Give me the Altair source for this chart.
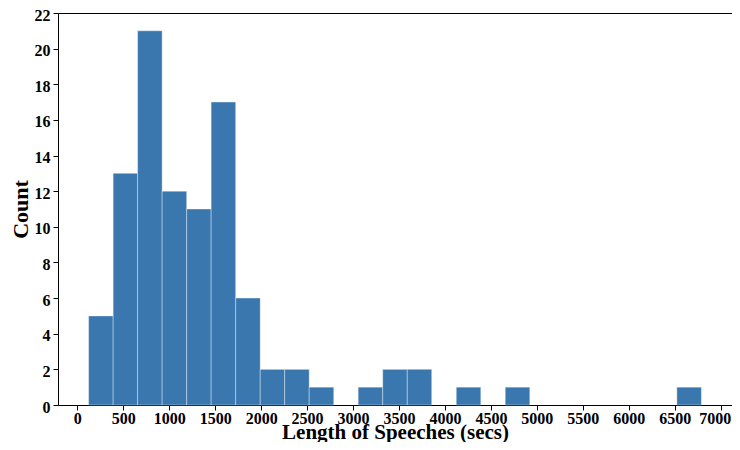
import altair as alt
import pandas as pd

bin_edges = [123, 390, 656, 923, 1190, 1456, 1723, 1990, 2256, 2523, 2790,
             3056, 3323, 3590, 3856, 4123, 4390, 4656, 4923, 5190, 5456,
             5723, 5990, 6256, 6523, 6790]
counts = [5, 13, 21, 12, 11, 17, 6, 2, 2, 1, 0,
          1, 2, 2, 0, 1, 0, 1, 0, 0, 0,
          0, 0, 0, 1]
x_ticks = list(range(0, 7001, 500))
y_ticks = list(range(0, 23, 2))

df = pd.DataFrame({"start": bin_edges[:-1], "end": bin_edges[1:], "count": counts})
df = df[df["count"] > 0]

FONT = "Liberation Serif"

chart = alt.Chart(df).mark_rect(
    color="#3a77af", stroke="white", strokeWidth=0.6, strokeOpacity=0.6
).encode(
    x=alt.X("start:Q",
            scale=alt.Scale(domain=[-210, 7123], nice=False, zero=False),
            axis=alt.Axis(values=x_ticks, format="d", title="Length of Speeches (secs)",
                          labelPadding=0, labelFlush=15, labelFlushOffset=10,
                          titleFontSize=21, titleY=33, titleBaseline="alphabetic")),
    x2="end:Q",
    y=alt.Y("count:Q",
            scale=alt.Scale(domain=[0, 22], nice=False),
            axis=alt.Axis(values=y_ticks, format="d", title="Count",
                          labelOffset=2,
                          titleX=-31, titleAngle=270, titleBaseline="alphabetic")),
    y2=alt.datum(0),
).properties(
    width=674, height=392,
    background="white",
    autosize=alt.AutoSizeParams(type="none"),
    padding={"left": 50, "top": 5, "right": 0, "bottom": 37},
).configure_view(
    stroke="black", strokeWidth=1
).configure_axis(
    grid=False,
    domainColor="black",
    domainWidth=1,
    tickColor="black",
    tickSize=5,
    tickWidth=1,
    labelFont=FONT,
    labelFontSize=16,
    labelFontWeight="bold",
    labelColor="black",
    labelPadding=3,
    titleFont=FONT,
    titleFontSize=22,
    titleFontWeight="bold",
    titleColor="black",
)

chart.save("out.html", embed_options={"renderer": "svg", "actions": False})
